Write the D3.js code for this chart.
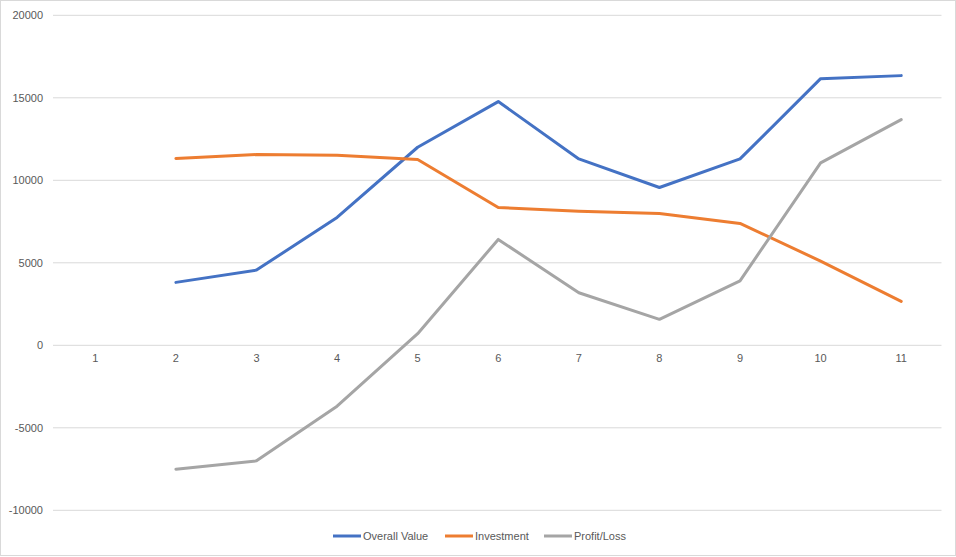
<!DOCTYPE html>
<html><head><meta charset="utf-8">
<script src="https://cdn.jsdelivr.net/npm/d3@7"></script>
<style>body{margin:0;background:#fff}svg{display:block}text{font-family:"Liberation Sans",Arial,sans-serif}</style>
</head><body><svg id="c" width="956" height="557"></svg>
<script>
const categories = ["1","2","3","4","5","6","7","8","9","10","11"];
const overallValue = [null,3813,4558,7748,12003,14770,11295,9564,11295,16162,16344];
const investment = [null,11320,11562,11519,11259,8354,8130,7990,7385,5103,2663];
const profitLoss = [null,-7507,-7004,-3693,702,6417,3184,1574,3910,11059,13681];
const yTicks = [-10000,-5000,0,5000,10000,15000,20000];
const seriesNames = ["Overall Value","Investment","Profit/Loss"];
const seriesColors = ["#4472C4","#ED7D31","#A5A5A5"];

const svg = d3.select("#c");
svg.append("rect").attr("x",0.5).attr("y",0.5).attr("width",955).attr("height",555)
  .attr("fill","#fff").attr("stroke","#D9D9D9");
const L=53,R=941.5,T=15.3,B=510.3;
const x = d3.scaleBand().domain(categories).range([55,941.5]);
const y = d3.scaleLinear().domain([-10000,20000]).range([B,T]);

svg.append("g").selectAll("line").data(yTicks).join("line")
  .attr("x1",L).attr("x2",R).attr("y1",d=>y(d)).attr("y2",d=>y(d))
  .attr("stroke","#D9D9D9").attr("stroke-width",1);

const yAxis = svg.append("g").attr("transform",`translate(${L},0)`)
  .call(d3.axisLeft(y).tickValues(yTicks).tickSize(0).tickPadding(10).tickFormat(d=>String(d)));
yAxis.select(".domain").remove();
yAxis.selectAll("text").attr("fill","#595959").attr("font-size",11).attr("font-family","Liberation Sans, Arial, sans-serif");

const xAxis = svg.append("g").attr("transform",`translate(0,${y(0)})`)
  .call(d3.axisBottom(x).tickSize(0).tickPadding(9));
xAxis.select(".domain").remove();
xAxis.selectAll("text").attr("fill","#595959").attr("font-size",11).attr("font-family","Liberation Sans, Arial, sans-serif");

const data = [overallValue,investment,profitLoss];
const line = d3.line().defined(d=>d.v!=null).x(d=>x(d.c)+x.bandwidth()/2).y(d=>y(d.v));
data.forEach((arr,i)=>{
  svg.append("path").datum(arr.map((v,j)=>({c:categories[j],v})))
    .attr("d",line).attr("fill","none").attr("stroke",seriesColors[i])
    .attr("stroke-width",3).attr("stroke-linejoin","round").attr("stroke-linecap","round");
});

const legendX=[333,445,544], ly=536;
const lg = svg.append("g");
seriesNames.forEach((n,i)=>{
  lg.append("line").attr("x1",legendX[i]).attr("x2",legendX[i]+28).attr("y1",ly).attr("y2",ly)
    .attr("stroke",seriesColors[i]).attr("stroke-width",3);
  lg.append("text").attr("x",legendX[i]+30).attr("y",ly).attr("dy","0.35em")
    .attr("font-size",11).attr("fill","#595959").text(n);
});
</script></body></html>
